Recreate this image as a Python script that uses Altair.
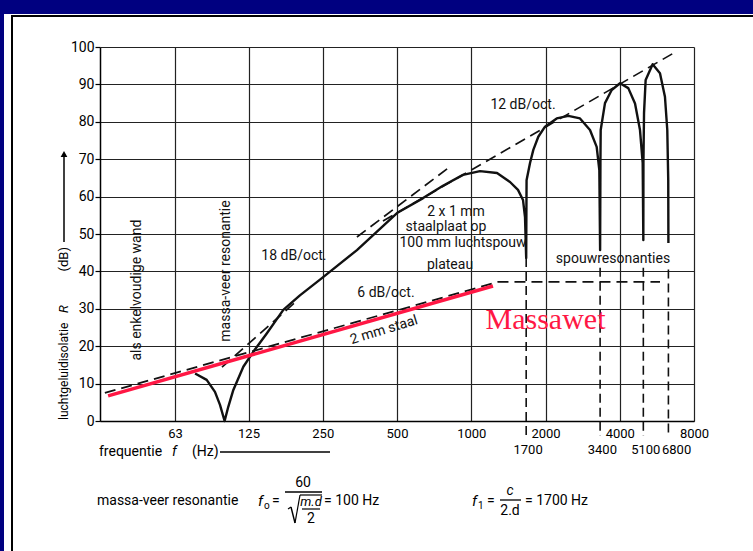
import altair as alt
import pandas as pd

FONT = "Roboto, Liberation Sans, sans-serif"
SERIF = "Liberation Serif, Times New Roman, serif"
RED = "#ff1744"
NAVY = "#000080"
INK = "#111111"

# ---------------- data ----------------
octave_ticks = [63, 125, 250, 500, 1000, 2000, 4000, 8000]
resonance_labels = [1700, 3400, 5100, 6800]
y_ticks = [0, 10, 20, 30, 40, 50, 60, 70, 80, 90, 100]

# 2 x 1 mm staalplaat op 100 mm luchtspouw (solid curve, drawn in order)
curve_f = [75.9, 84.6, 91.4, 95.8, 100.0, 103.5, 108.5, 119.1, 130.7, 148.2, 173, 202, 248, 344, 500, 638,
           768, 926, 1085, 1272, 1436, 1547, 1621, 1652, 1670,
           1672, 1676, 1731, 1785, 1870, 1991, 2221, 2475, 2760, 3030, 3225, 3306, 3330,
           3340, 3348, 3485, 3710, 4010, 4332, 4613, 4832, 4955, 4985,
           4990, 5018, 5094, 5438, 5823, 6100, 6234, 6290, 6300]
curve_R = [12.7, 11.0, 7.8, 4.3, 0.0, 3.8, 8.3, 14.5, 18.5, 23.4, 29.7, 33.6, 38.2, 45.7, 55.6, 59.6,
           62.9, 65.8, 66.8, 66.3, 63.9, 61.8, 59.1, 54.5, 43.6,
           51.1, 64.4, 69.0, 72.5, 76.0, 78.7, 80.9, 81.6, 80.9, 77.8, 73.3, 67.1, 45.7,
           69.0, 77.8, 85.0, 88.5, 90.3, 89.0, 84.9, 77.8, 69.0, 48.4,
           69.0, 82.4, 91.2, 95.4, 93.0, 86.7, 77.8, 64.4, 47.6]

# spouwresonanties: dashed continuation of each dip (top of the dashed part)
dip_f = [1670, 3330, 4985, 6300]
dip_top = [43.6, 41.0, 41.0, 40.5]

# massawet 6 dB/oct (dashed) + plateau
mass_f = [32.7, 1284, 5826]
mass_R = [7.5, 37.2, 37.2]

# 2 mm staal (red)
red_f = [33.7, 1225]
red_R = [6.7, 36.1]

# asymptotes (dashed)
asym_seg = ["a", "a", "b", "b", "c", "c"]
asym_f = [97.6, 198.4, 344, 805, 438.7, 6826]
asym_R = [14.4, 32.4, 49.2, 67.6, 53.5, 98.9]

# annotations inside the plot
ann_text = ["18 dB/oct.", "2 x 1 mm", "staalplaat op", "100 mm luchtspouw", "plateau",
            "6 dB/oct.", "12 dB/oct.", "spouwresonanties"]
ann_f = [191, 867, 790, 926, 820, 451, 1621, 3756]
ann_R = [44.1, 55.9, 51.9, 47.6, 41.7, 34.2, 84.5, 43.3]

vert_text = ["als enkelvoudige wand", "massa-veer resonantie"]
vert_f = [44.2, 100.9]
vert_R = [35.0, 40.1]

# ---------------- encodings ----------------
xs = alt.Scale(type="log", base=2, domain=[31.25, 8000], nice=False)
ys = alt.Scale(domain=[0, 100], nice=False)
xaxis = alt.Axis(values=octave_ticks, title=None, grid=True, gridColor="#222", gridWidth=1.2,
                 tickSize=0, labelFont=FONT, labelFontSize=13, labelColor="black", labelPadding=6,
                 domainColor="black", domainWidth=1.5, labelFlush=False, labelOverlap=False, format="d")
yaxis = alt.Axis(values=y_ticks, title=None, grid=True, gridColor="#222", gridWidth=1.2,
                 tickSize=5, tickColor="black", tickWidth=1.2, labelFont=FONT, labelFontSize=14,
                 labelColor="black", labelPadding=1, domainColor="black", domainWidth=1.5,
                 labelFlush=False, labelOverlap=False)


def X(field="f"):
    return alt.X(f"{field}:Q", scale=xs, axis=xaxis)


def Y(field="R"):
    return alt.Y(f"{field}:Q", scale=ys, axis=yaxis)


curve_df = pd.DataFrame({"f": curve_f, "R": curve_R, "i": range(len(curve_f))})
dip_df = pd.DataFrame({"f": dip_f, "R": dip_top, "R0": [-4] * len(dip_f)})
mass_df = pd.DataFrame({"f": mass_f, "R": mass_R, "i": range(len(mass_f))})
red_df = pd.DataFrame({"f": red_f, "R": red_R})
asym_df = pd.DataFrame({"f": asym_f, "R": asym_R, "seg": asym_seg})
ann_df = pd.DataFrame({"f": ann_f, "R": ann_R, "t": ann_text})
vert_df = pd.DataFrame({"f": vert_f, "R": vert_R, "t": vert_text})
res_df = pd.DataFrame({"f": resonance_labels, "t": [str(v) for v in resonance_labels]})
one = pd.DataFrame({"d": [0]})

grid_layer = alt.Chart(curve_df).mark_line(opacity=0).encode(x=X(), y=Y())

curve = alt.Chart(curve_df).mark_line(color=INK, strokeWidth=2.4, strokeJoin="round").encode(
    x=X(), y=Y(), order="i:Q")

dips = alt.Chart(dip_df).mark_rule(color=INK, strokeWidth=1.6, strokeDash=[9, 5]).encode(
    x=X(), y=Y(), y2="R0:Q")

red = alt.Chart(red_df).mark_line(color=RED, strokeWidth=3.5).encode(x=X(), y=Y())

mass = alt.Chart(mass_df).mark_line(color=INK, strokeWidth=1.8, strokeDash=[11, 6]).encode(
    x=X(), y=Y(), order="i:Q")

asym = alt.Chart(asym_df).mark_line(color=INK, strokeWidth=1.7, strokeDash=[11, 6]).encode(
    x=X(), y=Y(), detail="seg:N")

ann = alt.Chart(ann_df).mark_text(font=FONT, fontSize=14, color=INK, align="center", baseline="middle").encode(
    x=X(), y=Y(), text="t:N")

vert = alt.Chart(vert_df).mark_text(font=FONT, fontSize=14, color=INK, angle=270, align="center",
                                    baseline="middle").encode(x=X(), y=Y(), text="t:N")

staal = alt.Chart(pd.DataFrame({"f": [443], "R": [24.3], "t": ["2 mm staal"]})).mark_text(
    font=FONT, fontSize=14, color=INK, angle=343, align="center", baseline="middle").encode(
    x=X(), y=Y(), text="t:N")

massawet = alt.Chart(pd.DataFrame({"f": [2000], "R": [27.0], "t": ["Massawet"]})).mark_text(
    font=SERIF, fontSize=30, color=RED, align="center", baseline="middle").encode(
    x=X(), y=Y(), text="t:N")

res_labels = alt.Chart(res_df).mark_text(font=FONT, fontSize=13, color="black", align="center",
                                         baseline="middle").encode(x=X(), y=alt.value(403), text="t:N")


def ptext(txt, x, y, size=14, italic=False, align="left", angle=None, font=FONT, color="black"):
    kw = dict(font=font, fontSize=size, color=color, align=align, baseline="middle", text=txt)
    if italic:
        kw["fontStyle"] = "italic"
    if angle is not None:
        kw["angle"] = angle
    return alt.Chart(one).mark_text(**kw).encode(x=alt.value(x), y=alt.value(y))


def prule(x, y, x2, y2, w=1.4, color="black"):
    return alt.Chart(one).mark_rule(color=color, strokeWidth=w).encode(
        x=alt.value(x), y=alt.value(y), x2=alt.value(x2), y2=alt.value(y2))


def prect(x, y, x2, y2, color):
    return alt.Chart(one).mark_rect(color=color).encode(
        x=alt.value(x), y=alt.value(y), x2=alt.value(x2), y2=alt.value(y2))


deco = [
    prect(-100, -47, 653, -33, NAVY),
    prect(-100, -47, -96, 504, NAVY),
    prule(-89, -31, 653, -31, 2),
    prule(-88, -31, -88, 504, 2),
    # x title
    ptext("frequentie", -1, 405),
    ptext("f", 72, 405, italic=True),
    ptext("(Hz)", 92, 405),
    prule(120, 405, 230, 405, 1.5),
    # y title (reads bottom to top)
    ptext("luchtgeluidisolatie", -36, 373, size=12, angle=270, align="left"),
    ptext("R", -36, 262, size=13, italic=True, angle=270, align="center"),
    ptext("(dB)", -36, 200, size=13, angle=270, align="right"),
    prule(-36, 195, -36, 108, 1.5),
    alt.Chart(one).mark_point(shape="triangle-up", filled=True, color="black", size=45, opacity=1).encode(
        x=alt.value(-36), y=alt.value(107)),
    # formula 1
    ptext("massa-veer resonantie", -3, 454),
    ptext("f", 158, 454, italic=True, size=15),
    ptext("o", 164, 459, size=10),
    ptext("=", 172, 454),
    ptext("60", 203, 436, align="center"),
    prule(185, 445, 222, 445, 1.3),
    prule(188, 462, 191, 460, 1.2),
    prule(191, 460, 195, 476, 1.4),
    prule(195, 476, 200, 448, 1.2),
    prule(200, 448, 222, 448, 1.2),
    ptext("m.d", 211, 455, size=13, italic=True, align="center"),
    prule(202, 462, 220, 462, 1.2),
    ptext("2", 211, 472, align="center"),
    ptext("= 100 Hz", 224, 454),
    # formula 2
    ptext("f", 372, 454, italic=True, size=15),
    ptext("1", 378, 459, size=10),
    ptext("=", 387, 454),
    ptext("c", 410, 444, italic=True, align="center"),
    prule(400, 453, 421, 453, 1.3),
    ptext("2.d", 410, 464, align="center"),
    ptext("= 1700 Hz", 425, 454),
]

chart = alt.layer(
    grid_layer, *deco, mass, asym, dips, curve, red, ann, vert, staal, massawet, res_labels
).properties(
    width=594, height=374,
    padding={"left": 100, "top": 47, "right": 59, "bottom": 130},
    autosize=alt.AutoSizeParams(type="none"),
    background="white",
).configure_view(stroke=None)

chart.save("out.html", embed_options={"renderer": "svg", "actions": False})
